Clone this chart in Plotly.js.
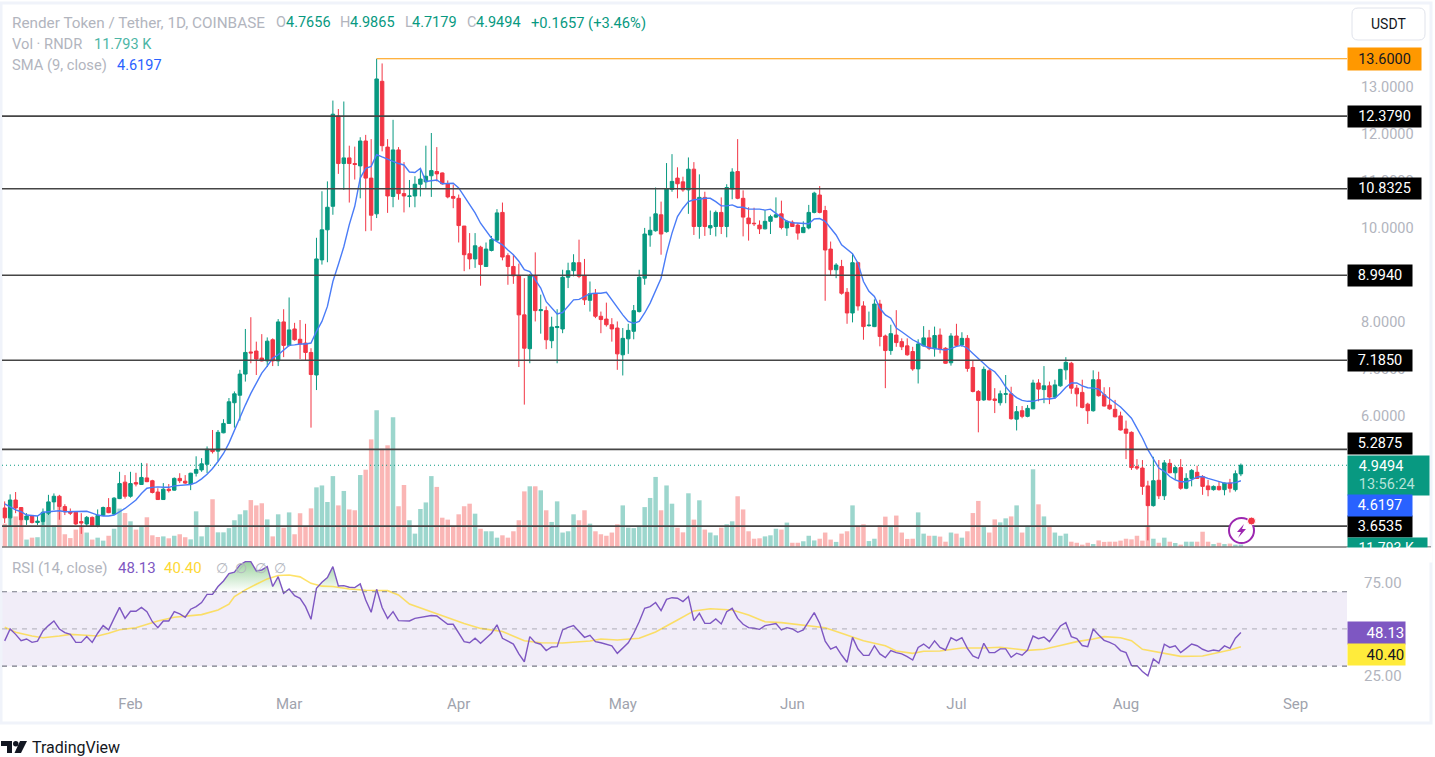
<!DOCTYPE html>
<html><head><meta charset="utf-8">
<script src="https://cdn.plot.ly/plotly-3.0.1.min.js"></script>
<style>html,body{margin:0;padding:0;background:#fff;overflow:hidden}#c{width:1435px;height:757px}</style>
</head><body><div id="c"></div>
<script>
const startDate = '2024-01-09';
const opens = [4.04,3.83,4.21,4.05,3.79,3.87,3.73,3.75,3.93,4.17,
4.29,4.07,3.96,3.95,3.75,3.70,3.84,3.66,3.88,4.05,
3.91,4.24,4.59,4.29,4.58,4.54,4.68,4.62,4.38,4.22,
4.44,4.42,4.67,4.61,4.55,4.78,4.85,4.97,5.28,5.25,
5.64,5.84,6.28,6.44,6.89,7.36,7.38,7.23,7.17,7.62,
7.17,8.00,7.50,7.85,7.63,7.55,7.35,6.87,9.32,9.96,
10.46,12.38,11.37,11.49,11.37,11.32,11.85,11.06,10.30,13.12,
11.72,10.67,11.66,10.73,10.67,10.68,10.93,10.98,11.11,11.20,
11.17,10.94,10.67,10.63,10.04,9.45,9.34,9.59,9.18,9.52,
9.74,10.33,9.41,9.18,8.98,8.15,7.43,8.98,8.24,8.24,
7.60,7.88,7.85,8.95,9.09,9.26,8.98,8.46,8.60,8.12,
8.06,7.94,7.87,7.30,7.64,7.80,8.22,8.93,9.85,9.94,
10.28,9.92,10.82,11.06,10.98,10.81,11.25,10.03,10.65,10.00,
10.03,10.33,10.03,10.83,11.20,10.63,10.21,10.10,10.06,9.98,
10.14,10.23,10.30,10.00,10.12,10.06,9.90,10.00,10.33,10.70,
10.37,9.55,9.11,9.18,8.63,8.19,9.26,8.34,7.92,7.90,
8.38,7.70,7.39,7.72,7.58,7.49,7.37,7.00,7.49,7.66,
7.43,7.72,7.44,7.13,7.70,7.51,7.65,7.03,6.52,6.34,
6.96,6.36,6.28,6.46,6.47,5.93,6.11,5.99,6.15,6.70,
6.56,6.64,6.40,6.64,6.98,7.12,6.59,6.50,6.25,6.11,
6.77,6.45,6.23,6.14,6.00,5.72,5.65,4.92,4.89,4.51,
4.09,4.63,4.30,4.99,4.79,4.90,4.46,4.67,4.80,4.71,
4.51,4.43,4.50,4.43,4.57,4.43,4.7656];
const closes = [3.83,4.21,4.04,3.79,3.87,3.73,3.76,3.95,4.17,4.29,
4.07,3.96,3.93,3.70,3.72,3.84,3.66,3.88,4.05,3.94,
4.25,4.56,4.29,4.56,4.55,4.69,4.60,4.37,4.22,4.44,
4.41,4.67,4.62,4.57,4.78,4.86,4.98,5.29,5.24,5.65,
5.84,6.30,6.47,6.89,7.35,7.34,7.21,7.17,7.59,7.17,
8.00,7.50,7.83,7.62,7.53,7.35,6.88,9.34,9.96,10.44,
12.42,11.37,11.49,11.37,11.35,11.85,11.06,10.27,13.17,11.75,
10.68,11.66,10.73,10.68,10.68,10.93,11.04,11.10,11.22,11.15,
10.94,10.66,10.63,10.05,9.43,9.34,9.62,9.22,9.55,9.75,
10.32,9.38,9.18,8.98,8.15,7.44,8.98,8.24,8.26,7.62,
7.89,7.90,8.95,9.09,9.26,8.97,8.47,8.60,8.12,8.05,
7.94,7.85,7.32,7.65,7.82,8.24,8.95,9.87,9.95,10.30,
9.87,10.83,10.99,10.94,10.81,11.25,10.03,10.65,10.03,10.05,
10.33,10.03,10.86,11.19,10.63,10.23,10.09,10.09,9.98,10.14,
10.24,10.28,10.01,10.14,10.03,9.89,10.01,10.33,10.74,10.33,
9.53,9.11,9.21,8.61,8.19,9.26,8.34,7.90,7.93,8.38,
7.69,7.39,7.75,7.56,7.47,7.30,7.00,7.53,7.66,7.44,
7.71,7.42,7.12,7.70,7.50,7.65,7.01,6.52,6.33,6.99,
6.34,6.33,6.47,6.47,5.94,6.09,5.99,6.16,6.70,6.57,
6.64,6.40,6.66,6.99,7.14,6.59,6.47,6.18,6.11,6.77,
6.43,6.21,6.15,5.98,5.70,5.63,4.90,4.89,4.50,4.09,
4.62,4.30,5.00,4.79,4.90,4.46,4.67,4.84,4.67,4.50,
4.43,4.50,4.43,4.57,4.46,4.77,4.9494];
const highs = [4.18,4.33,4.38,4.06,3.93,3.89,3.87,4.03,4.32,4.35,
4.32,4.12,4.03,3.96,3.93,3.87,3.86,4.01,4.07,4.25,
4.27,4.81,4.74,4.81,4.79,5.00,4.99,4.64,4.46,4.57,
4.55,4.69,4.78,4.74,4.79,5.14,5.10,5.35,5.70,5.70,
5.93,6.38,6.52,6.98,7.85,8.10,7.58,7.74,7.67,7.65,
8.06,8.27,8.52,7.98,8.04,7.96,7.44,9.79,10.78,10.99,
12.71,12.53,12.69,11.75,11.73,11.93,11.98,11.89,13.60,13.50,
11.89,12.30,11.72,11.40,11.02,11.10,11.24,11.75,12.02,11.72,
11.18,11.01,10.92,10.71,10.04,9.89,9.89,9.62,9.69,9.83,
10.40,10.54,9.46,9.43,9.24,8.93,9.02,9.48,8.58,8.33,
8.11,8.27,9.11,9.26,9.44,9.75,9.34,8.86,8.70,8.22,
8.41,8.08,8.01,7.87,7.96,8.36,9.11,10.00,10.24,10.86,
10.56,11.38,11.57,11.29,11.09,11.50,11.40,11.14,10.77,10.37,
10.37,10.65,10.93,11.27,11.89,10.80,10.44,10.43,10.16,10.38,
10.28,10.65,10.58,10.17,10.16,10.10,10.14,10.49,10.77,10.89,
10.47,9.71,9.25,9.32,8.72,9.46,9.28,8.44,8.22,8.48,
8.47,7.73,7.94,8.25,7.65,7.65,7.47,7.63,7.91,7.83,
7.90,7.86,7.46,7.76,7.96,7.78,7.72,7.19,6.55,7.05,
7.01,6.59,6.54,6.87,6.62,6.21,6.21,6.23,6.77,6.78,
7.06,6.73,6.77,7.00,7.25,7.15,6.66,6.77,6.28,6.97,
6.94,6.61,6.61,6.34,6.09,5.90,5.67,5.08,5.06,4.62,
5.13,5.06,5.06,5.08,4.94,5.08,4.78,4.87,4.94,4.74,
4.64,4.52,4.60,4.58,4.66,4.84,4.9865];
const lows = [3.72,3.64,3.93,3.66,3.68,3.71,3.68,3.68,3.89,4.00,
3.79,3.89,3.89,3.68,3.49,3.64,3.64,3.63,3.87,3.93,
3.89,4.23,4.24,4.26,4.50,4.53,4.59,4.35,4.21,4.21,
4.37,4.41,4.57,4.55,4.42,4.71,4.81,4.78,5.20,5.03,
5.63,5.83,5.75,5.90,6.73,7.12,6.87,7.16,7.04,7.06,
7.06,7.25,7.48,7.60,7.21,7.19,5.75,6.55,9.22,9.27,
10.28,11.15,10.81,10.54,11.03,10.63,9.93,9.94,10.21,11.63,
10.32,10.44,10.60,10.33,10.44,10.44,10.67,10.85,10.66,10.99,
10.92,10.63,10.42,9.69,9.08,9.12,9.15,8.77,9.17,9.50,
9.71,9.31,8.79,8.81,7.04,6.24,7.12,8.01,7.75,7.42,
7.44,7.12,7.76,8.72,8.97,8.93,8.36,8.22,8.08,7.76,
7.90,7.58,6.98,6.86,7.32,7.63,8.20,8.79,9.60,9.92,
9.43,9.90,10.77,10.63,10.77,10.30,9.85,9.77,9.83,9.85,
9.82,9.87,9.80,10.61,10.61,9.82,9.73,10.04,9.87,9.97,
9.87,10.21,9.97,9.83,10.02,9.75,9.89,9.97,10.31,10.31,
8.45,8.99,8.93,8.58,7.96,7.99,8.24,7.62,7.90,7.89,
7.48,6.59,7.30,7.47,7.40,7.28,6.96,6.69,7.48,7.40,
7.26,7.33,7.11,7.07,7.47,7.47,6.94,6.50,5.65,6.32,
6.33,6.06,6.22,6.27,5.92,5.69,5.95,5.97,6.14,6.31,
6.27,6.25,6.36,6.62,6.77,6.47,6.20,6.16,5.83,6.09,
6.41,6.20,6.13,5.97,5.69,5.08,4.85,4.85,4.32,3.35,
4.07,4.23,4.21,4.78,4.64,4.43,4.44,4.50,4.66,4.32,
4.29,4.41,4.41,4.31,4.37,4.39,4.7179];
const volumesK = [110,173,144,129,35,44,46,118,165,102,
188,60,42,82,102,68,35,44,30,53,
86,181,160,121,82,94,140,55,47,50,
41,53,60,46,36,168,50,102,225,69,
69,89,126,154,173,221,196,206,130,50,
154,91,163,60,159,97,182,281,290,212,
334,196,264,177,173,339,364,507,644,463,
479,611,192,292,126,63,179,210,334,283,
138,129,100,154,192,204,157,86,74,74,
44,55,44,74,126,262,286,286,267,173,
118,215,68,74,154,126,173,110,74,60,
53,68,107,196,91,89,94,188,231,330,
173,290,204,91,69,253,129,220,82,68,
55,91,107,121,239,177,74,39,41,50,
55,86,82,115,20,20,27,53,31,39,
68,35,24,63,74,196,97,107,28,39,
102,143,100,148,68,38,39,163,63,53,
53,49,25,68,63,44,74,160,217,100,
68,130,116,135,144,196,68,100,366,201,
144,97,68,53,63,25,20,11,20,14,
31,24,25,25,30,39,36,53,30,100,
39,20,44,25,19,11,25,25,25,72,
25,14,20,14,16,11,11.793];
const sma9 = [4.13,4.07,4.00,3.96,3.89,3.88,3.87,3.95,3.96,3.98,
3.98,3.96,3.96,3.96,3.96,3.97,3.93,3.89,3.87,3.87,
3.89,3.96,4.03,4.12,4.21,4.35,4.46,4.48,4.49,4.48,
4.48,4.51,4.52,4.52,4.54,4.58,4.66,4.76,4.88,5.03,
5.20,5.42,5.70,5.95,6.23,6.48,6.69,6.91,7.06,7.23,
7.30,7.41,7.50,7.51,7.53,7.53,7.55,7.80,8.01,8.33,
8.86,9.22,9.60,10.07,10.46,11.06,11.27,11.31,11.56,11.51,
11.46,11.41,11.37,11.34,11.19,11.18,11.27,10.99,11.01,11.02,
10.94,10.95,10.95,10.85,10.67,10.49,10.32,10.10,9.93,9.78,
9.71,9.64,9.53,9.43,9.29,9.11,9.07,8.90,8.72,8.43,
8.29,8.17,8.20,8.33,8.47,8.48,8.54,8.60,8.61,8.61,
8.63,8.47,8.29,8.15,8.01,7.97,8.01,8.19,8.40,8.68,
8.93,9.46,9.89,10.24,10.42,10.56,10.60,10.61,10.63,10.63,
10.56,10.47,10.47,10.49,10.44,10.44,10.40,10.40,10.40,10.38,
10.40,10.31,10.23,10.14,10.11,10.10,10.09,10.09,10.19,10.20,
10.14,10.00,9.85,9.64,9.55,9.45,9.25,8.86,8.65,8.54,
8.29,8.15,8.08,7.87,7.79,7.70,7.62,7.56,7.49,7.45,
7.43,7.42,7.40,7.43,7.48,7.50,7.44,7.33,7.23,7.12,
7.01,6.94,6.80,6.62,6.48,6.39,6.33,6.31,6.31,6.34,
6.36,6.36,6.38,6.48,6.61,6.70,6.70,6.64,6.60,6.59,
6.57,6.45,6.36,6.27,6.19,6.07,5.95,5.74,5.53,5.28,
5.07,4.89,4.82,4.71,4.64,4.60,4.60,4.64,4.70,4.71,
4.67,4.64,4.60,4.57,4.57,4.58,4.6197];
const rsi14 = [43.6,50.0,47.1,43.7,44.6,42.8,43.5,48.9,51.8,54.3,
50.0,48.0,47.1,42.8,42.8,45.9,42.8,47.7,51.8,49.5,
55.7,61.6,55.7,59.5,59.5,61.6,59.3,53.9,50.7,54.3,
54.3,59.3,58.1,56.3,60.6,62.0,64.2,68.6,68.6,72.8,
75.8,79.7,80.5,84.4,86.2,86.2,81.2,81.7,83.5,72.8,
78.1,69.2,71.5,67.9,66.5,62.0,55.2,71.9,75.1,77.6,
83.5,73.1,73.3,72.4,72.2,74.2,65.6,59.0,71.3,61.5,
55.7,59.3,54.5,54.3,54.3,55.7,56.3,56.6,57.2,57.0,
54.5,52.5,52.5,47.7,43.2,42.6,45.0,42.3,45.0,47.7,
52.2,45.0,43.5,41.9,36.6,32.4,45.9,42.6,41.8,38.4,
40.3,40.5,49.5,50.9,51.8,48.6,45.5,46.6,43.2,42.6,
41.9,40.9,36.9,40.0,42.6,47.7,53.9,61.1,62.0,64.2,
59.9,65.9,66.8,66.5,64.7,67.4,54.5,58.4,53.0,53.0,
55.4,52.7,59.3,61.1,55.7,52.5,50.7,50.4,49.8,51.8,
52.5,52.9,49.5,50.7,50.0,48.2,49.5,53.9,58.8,53.0,
43.5,39.2,40.5,36.0,32.1,45.5,39.2,35.8,35.8,41.0,
36.6,34.6,38.4,37.3,36.6,35.1,33.3,40.1,41.9,39.6,
43.6,40.1,38.7,45.3,43.7,45.3,39.6,35.5,34.2,42.3,
37.3,37.3,39.3,39.3,34.8,37.0,35.9,38.7,46.2,44.8,
45.7,43.2,47.3,51.6,53.4,45.9,44.8,41.1,40.5,50.0,
46.8,43.9,42.8,41.4,38.4,37.3,30.3,30.3,27.1,24.8,
33.9,31.5,41.8,40.1,40.9,37.3,39.6,41.9,41.0,39.1,
38.0,38.7,38.2,40.9,39.6,45.0,48.13];
const rsiMaDays = [0,2,5,7,10,12,14,17,19,21,24,26,28,31,33,36,39,41,42,44,46,48,50,52,54,56,58,60,63,66,70,72,74,77,81,
84,87,91,95,98,102,105,107,109,112,116,119,123,126,129,133,136,139,142,145,148,150,153,157,161,163,166,168,171,175,179,182,187,190,193,196,199,201,204,206,208,211,215,219,222,224,226];
const rsiMaValues = [50.9,48.2,46.2,45.3,46.2,47.1,46.8,46.2,47.7,49.6,50.7,52.5,54.3,56.3,57.0,57.7,60.2,63.3,67.4,71.0,74.0,76.9,78.7,79.0,78.0,74.5,73.0,72.8,71.5,70.8,70.6,68.3,63.4,60.2,56.3,
53.0,50.3,48.6,43.7,42.6,42.5,43.0,43.5,44.6,44.1,45.0,48.4,54.8,59.7,60.9,60.2,57.5,53.9,53.4,52.5,51.6,50.7,47.7,43.7,41.0,38.2,36.9,38.0,38.2,39.8,39.8,40.2,38.5,39.1,41.1,43.2,44.6,45.9,45.3,43.7,39.1,37.5,35.3,35.5,37.3,38.7,40.4];
const levels = [12.379,10.8325,8.994,7.185,5.2875,3.6535];
const levelLabels = ['12.3790','10.8325','8.9940','7.1850','5.2875','3.6535'];
const levelLabelWidth = [73,73,64,64,64,64];
const levelLabelShift = [0,0,0,0,6,0];
const peak = 13.6, lastClose = 4.9494, lastSma = 4.6197, lastRsi = 48.13, lastRsiMa = 40.40;
const priceTicks = [6,7,8,10,11,12,13];
const monthTicks = ['2024-02-01','2024-03-01','2024-04-01','2024-05-01','2024-06-01','2024-07-01','2024-08-01','2024-09-01'];
const monthLabels = ['Feb','Mar','Apr','May','Jun','Jul','Aug','Sep'];

const n = closes.length;
[opens,highs,lows,volumesK,sma9,rsi14].forEach((a,k)=>{ if(a.length!==n) throw new Error('len '+k+' '+a.length+' vs '+n); });
if(rsiMaDays.length!==rsiMaValues.length) throw new Error('ma '+rsiMaDays.length+' '+rsiMaValues.length);

const W=1435,H=757;
const px=x=>x/W, py=y=>1-y/H;
const t0=Date.parse(startDate+'T00:00:00Z');
const iso=i=>new Date(t0+i*864e5).toISOString().slice(0,10);
const dates=closes.map((_,i)=>iso(i));
const UP='#089981',DN='#f23645',GREY='#b2b5be';
const xEnd='2024-09-10 09:36';

const FONT='Roboto, "Liberation Sans", sans-serif';
const volColors=closes.map((c,i)=>c>=opens[i]?'rgba(8,153,129,0.4)':'rgba(242,73,69,0.4)');

const traces=[
 {type:'bar',x:dates,y:volumesK,xaxis:'x',yaxis:'y',marker:{color:volColors,line:{width:0}},hoverinfo:'skip'},
 {type:'candlestick',x:dates,open:opens,high:highs,low:lows,close:closes,xaxis:'x',yaxis:'y3',whiskerwidth:0,
  increasing:{line:{color:UP,width:1},fillcolor:UP},decreasing:{line:{color:DN,width:1},fillcolor:DN},hoverinfo:'skip'},
 {type:'scatter',mode:'lines',x:dates,y:sma9,xaxis:'x',yaxis:'y3',line:{color:'#4a7cf7',width:1.4},hoverinfo:'skip'},
 {type:'scatter',mode:'lines',x:dates,y:rsi14.map(()=>70),xaxis:'x',yaxis:'y2',line:{width:0},hoverinfo:'skip'},
 {type:'scatter',mode:'lines',x:dates,y:rsi14.map(v=>Math.max(v,70)),xaxis:'x',yaxis:'y2',line:{width:0},fill:'tonexty',
  fillgradient:{type:'vertical',start:70,stop:86,colorscale:[[0,'rgba(76,175,80,0)'],[1,'rgba(76,175,80,0.55)']]},hoverinfo:'skip'},
 {type:'scatter',mode:'lines',x:rsiMaDays.map(iso),y:rsiMaValues,xaxis:'x',yaxis:'y2',line:{color:'rgba(253,216,53,0.75)',width:1.6},hoverinfo:'skip'},
 {type:'scatter',mode:'lines',x:dates,y:rsi14,xaxis:'x',yaxis:'y2',line:{color:'#7e57c2',width:1.4},hoverinfo:'skip'}
];

const shapes=[];
const pxRect=(x0,y0,x1,y1,o)=>Object.assign({type:'rect',xref:'paper',yref:'paper',x0:px(x0),x1:px(x1),y0:py(y1),y1:py(y0),layer:'above',line:{width:0}},o);
shapes.push(pxRect(1,3,1431,723,{line:{color:'#f0f3fa',width:3},fillcolor:'rgba(0,0,0,0)'}));
shapes.push({type:'rect',xref:'paper',yref:'y2',x0:px(2),x1:px(1347),y0:30,y1:70,fillcolor:'rgba(126,87,194,0.11)',line:{width:0},layer:'below'});
[[70,'#787b86',1.2],[30,'#787b86',1.2],[50,'rgba(120,123,134,0.45)',1.2]].forEach(d=>
 shapes.push({type:'line',xref:'paper',yref:'y2',x0:px(2),x1:px(1347),y0:d[0],y1:d[0],line:{color:d[1],width:d[2],dash:'5px,5px'},layer:'above'}));
levels.forEach(v=>shapes.push({type:'line',xref:'paper',yref:'y3',x0:px(2),x1:px(1347),y0:v,y1:v,line:{color:'#454545',width:1.6},layer:'above'}));
shapes.push({type:'line',xref:'x',yref:'y3',x0:iso(68),x1:xEnd,y0:peak,y1:peak,line:{color:'#ff9800',width:1.2},layer:'above'});
shapes.push({type:'line',xref:'paper',yref:'y3',x0:px(2),x1:px(1347),y0:lastClose,y1:lastClose,line:{color:UP,width:1,dash:'1px,3px'},layer:'above'});
shapes.push({type:'line',xref:'paper',yref:'paper',x0:px(2),x1:px(1431),y0:py(547),y1:py(547),line:{color:'#777',width:1.4},layer:'above'});
(function(){const a=1352,b=1425,c=8,d=40,r=6;
 const P=(x,y)=>px(x)+','+py(y);
 shapes.push({type:'path',xref:'paper',yref:'paper',layer:'above',line:{color:'#e0e3eb',width:1},fillcolor:'#fff',
  path:`M${P(a+r,c)} L${P(b-r,c)} Q${P(b,c)} ${P(b,c+r)} L${P(b,d-r)} Q${P(b,d)} ${P(b-r,d)} L${P(a+r,d)} Q${P(a,d)} ${P(a,d-r)} L${P(a,c+r)} Q${P(a,c)} ${P(a+r,c)} Z`});})();
shapes.push({type:'circle',xref:'paper',yref:'paper',x0:px(1229),x1:px(1254),y0:py(543),y1:py(518),fillcolor:'#fff',line:{color:'#9c27b0',width:2},layer:'above'});
(function(){const P=(x,y)=>px(x)+','+py(y);
 shapes.push({type:'path',xref:'paper',yref:'paper',layer:'above',fillcolor:'#9c27b0',line:{width:0},
  path:`M${P(1244,524)} L${P(1237,532)} L${P(1241,532)} L${P(1238,538)} L${P(1246,529)} L${P(1242,529)} Z`});
 shapes.push({type:'path',xref:'paper',yref:'paper',layer:'above',fillcolor:'#131722',line:{width:0},
  path:`M${P(1,741)} L${P(12,741)} L${P(12,753)} L${P(7,753)} L${P(7,746)} L${P(1,746)} Z`});
 shapes.push({type:'path',xref:'paper',yref:'paper',layer:'above',fillcolor:'#131722',line:{width:0},
  path:`M${P(20,741)} L${P(27,741)} L${P(21,753)} L${P(14.5,753)} Z`});
})();
shapes.push({type:'circle',xref:'paper',yref:'paper',x0:px(13),x1:px(18.5),y0:py(746.5),y1:py(741),fillcolor:'#131722',line:{width:0},layer:'above'});
shapes.push({type:'circle',xref:'paper',yref:'paper',x0:px(1247.5),x1:px(1255.5),y0:py(525),y1:py(517),fillcolor:'#f23645',line:{color:'#fff',width:1},layer:'above'});

const ann=[];
const T=(x,y,text,color,size=14,o={})=>ann.push(Object.assign({xref:'paper',yref:'paper',x:px(x),y:py(y),text:`${text}`,showarrow:false,xanchor:'left',yanchor:'middle',font:{color,size,family:FONT},borderpad:0},o));
T(11,23,'Render Token / Tether, 1D, COINBASE',GREY,15.3);
T(275,23,'O',GREY,14.5);T(285,23,'4.7656',UP,14.5);
T(339,23,'H',GREY,14.5);T(349,23,'4.9865',UP,14.5);
T(404,23,'L',GREY,14.5);T(411,23,'4.7179',UP,14.5);
T(466,23,'C',GREY,14.5);T(475,23,'4.9494',UP,14.5);
T(530,23,'+0.1657 (+3.46%)',UP,14.7);
T(11,44,'Vol · RNDR',GREY,14.7);T(93,44,'11.793 K','#4db6a6',14.5);
T(11,65,'SMA (9, close)',GREY,14.7);T(116,65,'4.6197','#2962ff',14.5);
T(11,568,'RSI (14, close)',GREY,15);T(117,568,'48.13','#7e57c2',15);T(163,568,'40.40','#fdd835',15);
[215,234,254,273].forEach(x=>T(x,568,'∅',GREY));
T(31,747,'TradingView','#131722',16);
T(1388.5,24,'USDT','#131722',14,{xanchor:'center'});

const box=(yval,yref,text,bg,fg,w,h,shift=0)=>ann.push({xref:'paper',yref,x:px(1347),y:yval,xanchor:'left',yanchor:'middle',text,showarrow:false,
  bgcolor:bg,width:w,height:h,align:'center',yshift:shift,borderpad:0,font:{color:fg,size:14.5,family:FONT}});
box(peak,'y3','13.6000','#ff9800','#131722',73,22);
levels.forEach((v,i)=>box(v,'y3',levelLabels[i],'#000','#fff',levelLabelWidth[i],21,levelLabelShift[i]));
ann.push({xref:'paper',yref:'paper',x:px(1347),y:py(475.5),xanchor:'left',yanchor:'middle',showarrow:false,bgcolor:UP,width:81,height:39,align:'left',borderpad:0,
 text:' &nbsp;&nbsp;'+lastClose.toFixed(4)+'<br><span style="color:#b5e3da"> &nbsp;&nbsp;13:56:24</span>',font:{color:'#fff',size:14.5,family:FONT}});
ann.push({xref:'paper',yref:'paper',x:px(1347),y:py(506),xanchor:'left',yanchor:'middle',showarrow:false,bgcolor:'#2962ff',width:64,height:21,align:'center',borderpad:0,
 text:lastSma.toFixed(4),font:{color:'#fff',size:14.5,family:FONT}});
ann.push({xref:'paper',yref:'paper',x:px(1347),y:py(548),xanchor:'left',yanchor:'middle',showarrow:false,bgcolor:UP,width:79,height:20,align:'left',borderpad:0,
 text:' &nbsp;&nbsp;11.793 K',font:{color:'#fff',size:14,family:FONT}});
ann.push({xref:'paper',yref:'paper',x:px(1346),y:py(555),xanchor:'left',yanchor:'middle',showarrow:false,bgcolor:'#fff',width:85,height:14,text:' ',borderpad:0,font:{size:10}});
ann.push({xref:'paper',yref:'paper',x:px(1347),y:py(633),xanchor:'left',yanchor:'middle',showarrow:false,bgcolor:'#7e57c2',width:57,height:22,align:'left',borderpad:0,
 text:' &nbsp;&nbsp;&nbsp;&nbsp;'+lastRsi.toFixed(2),font:{color:'#fff',size:15,family:FONT}});
ann.push({xref:'paper',yref:'paper',x:px(1347),y:py(654.5),xanchor:'left',yanchor:'middle',showarrow:false,bgcolor:'#ffeb3b',width:57,height:21,align:'left',borderpad:0,
 text:' &nbsp;&nbsp;&nbsp;&nbsp;'+lastRsiMa.toFixed(2),font:{color:'#131722',size:15,family:FONT}});

const layout={
 width:W,height:H,margin:{l:0,r:0,t:0,b:0},paper_bgcolor:'#fff',plot_bgcolor:'rgba(0,0,0,0)',
 showlegend:false,dragmode:false,bargap:0.18,boxgap:0.1,
 xaxis:{domain:[px(2),px(1347)],anchor:'y2',type:'date',range:['2024-01-08 12:14',xEnd],rangeslider:{visible:false},
  tickmode:'array',tickvals:monthTicks,ticktext:monthLabels,showgrid:false,zeroline:false,showline:false,ticks:'',
  tickfont:{color:'#a0a3ad',size:15,family:FONT},tickangle:0},
 yaxis:{domain:[py(547),py(8)],range:[0,2539],anchor:'x',visible:false,fixedrange:true},
 yaxis2:{domain:[py(693),py(548)],range:[15.6,93.5],anchor:'x',side:'right',tickmode:'array',tickvals:[25,75],ticktext:['25.00','75.00'],
  showgrid:false,zeroline:false,showline:false,ticks:'outside',ticklen:13,tickcolor:'rgba(0,0,0,0)',tickfont:{color:GREY,size:15,family:FONT}},
 yaxis3:{domain:[py(547),py(8)],range:[3.21,14.68],overlaying:'y',anchor:'x',side:'right',tickmode:'array',tickvals:priceTicks,ticktext:priceTicks.map(v=>v.toFixed(4)),
  showgrid:false,zeroline:false,showline:false,ticks:'outside',ticklen:10,tickcolor:'rgba(0,0,0,0)',tickfont:{color:GREY,size:14.5,family:FONT}},
 shapes,annotations:ann
};
Plotly.newPlot('c',traces,layout,{staticPlot:true,displayModeBar:false});
</script></body></html>
